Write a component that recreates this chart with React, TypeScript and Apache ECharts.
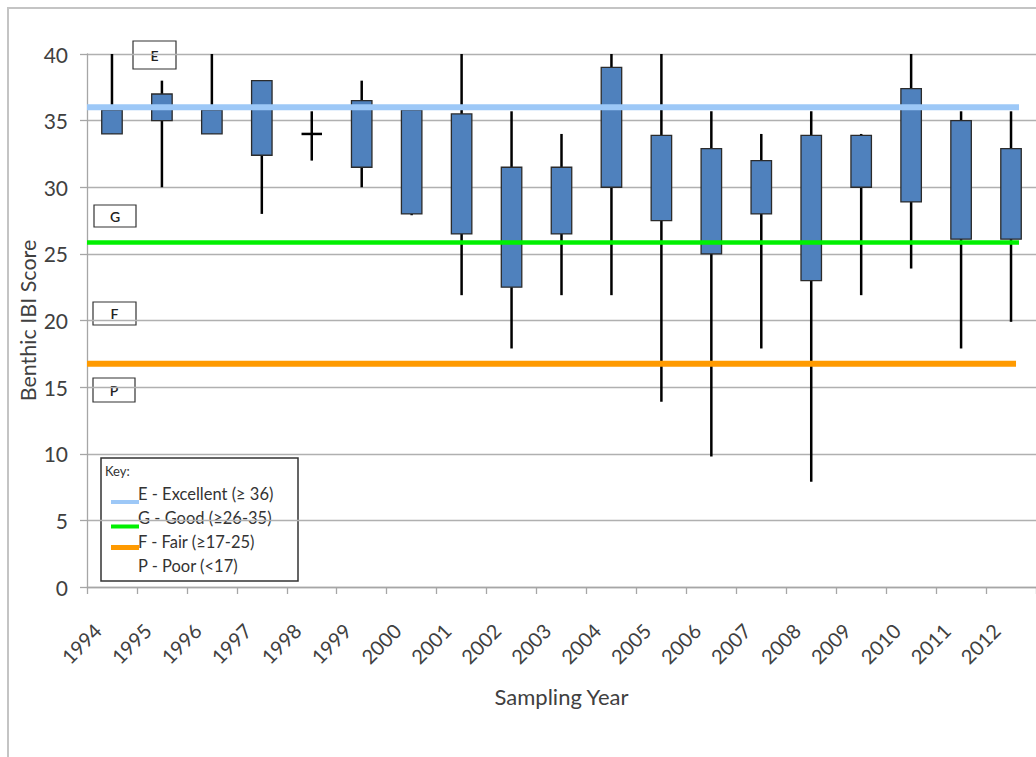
import React, { useEffect, useRef } from "react";
import * as echarts from "echarts";

const years = ["1994","1995","1996","1997","1998","1999","2000","2001","2002","2003","2004","2005","2006","2007","2008","2009","2010","2011","2012"];
const boxLow  = [34, 35, 34, 32.4, 34, 31.5, 28, 26.5, 22.5, 26.5, 30, 27.5, 25, 28, 23, 30, 28.9, 26.1, 26.1];
const boxHigh = [35.8, 37, 35.8, 38, 34, 36.5, 35.8, 35.5, 31.5, 31.5, 39, 33.9, 32.9, 32, 33.9, 33.9, 37.4, 35, 32.9];
const whiskerLow  = [34, 30, 34, 28, 32, 30, 27.9, 21.9, 17.9, 21.9, 21.9, 13.9, 9.8, 17.9, 7.9, 21.9, 23.9, 17.9, 19.9];
const whiskerHigh = [40, 38, 40, 38, 35.7, 38, 35.8, 40, 35.7, 34, 40, 40, 35.7, 34, 35.7, 34, 40, 35.7, 35.7];

const levelNames = ["Excellent", "Good", "Fair"];
const levelValues = [36, 25.85, 16.75];
const levelEnds = [18.66, 18.66, 18.6];
const levelColors = ["#9DC8F7", "#00F000", "#FF9A00"];
const levelWidths = [6, 4.5, 6];

const yTicks = { min: 0, max: 40, interval: 5 };
const labelShift = 0.212;

const FONT = "Lato, 'Open Sans', sans-serif";

export default function App() {
  const ref = useRef<HTMLDivElement>(null);
  useEffect(() => {
    if (!ref.current) return;
    const chart = echarts.init(ref.current, null, { renderer: "svg" });
    const boxData = years.map((_, i) => [i + 0.5, boxLow[i], boxHigh[i], whiskerLow[i], whiskerHigh[i]]);
    const series: any[] = [
      {
        type: "custom",
        name: "IBI",
        data: boxData,
        encode: { x: 0, y: [1, 2, 3, 4] },
        z: 2,
        renderItem: (params: any, api: any) => {
          const x = api.value(0);
          const pLo = api.coord([x, api.value(3)]);
          const pHi = api.coord([x, api.value(4)]);
          const b1 = api.coord([x, api.value(1)]);
          const b2 = api.coord([x, api.value(2)]);
          const w = api.size([0.41, 0])[0];
          const children: any[] = [
            {
              type: "line",
              shape: { x1: pLo[0], y1: pLo[1], x2: pHi[0], y2: pHi[1] },
              style: { stroke: "#000", lineWidth: 2.5 },
            },
          ];
          const h = Math.abs(b1[1] - b2[1]);
          if (h < 1) {
            children.push({
              type: "line",
              shape: { x1: b1[0] - w / 2, y1: b1[1], x2: b1[0] + w / 2, y2: b1[1] },
              style: { stroke: "#000", lineWidth: 2.5 },
            });
          } else {
            children.push({
              type: "rect",
              shape: { x: b1[0] - w / 2, y: Math.min(b1[1], b2[1]), width: w, height: h },
              style: { fill: "#4F81BD", stroke: "#2B2B2B", lineWidth: 1.3 },
            });
          }
          return { type: "group", children };
        },
      },
    ];
    levelValues.forEach((v, k) => {
      series.push({
        type: "line",
        name: levelNames[k],
        data: [[0, v], [levelEnds[k], v]],
        symbol: "none",
        z: 5,
        lineStyle: { color: levelColors[k], width: levelWidths[k] },
        silent: true,
      });
    });

    const boxText = (x: number, y: number, w: number, h: number, t: string) => ({
      type: "group",
      children: [
        { type: "rect", shape: { x, y, width: w, height: h }, style: { fill: "#fff", stroke: "#333", lineWidth: 1.2 } },
        { type: "text", x: x + w / 2, y: y + h / 2, style: { text: t, fill: "#222", font: `600 14px ${FONT}`, align: "center", verticalAlign: "middle" } },
      ],
    });

    const keyItems = ["E - Excellent (≥ 36)", "G - Good (≥26-35)", "F - Fair (≥17-25)", "P - Poor (<17)"];
    const keyY = [494, 518, 542, 566];
    const keyLineY = [502, 526.5, 547.5];

    chart.setOption({
      animation: false,
      backgroundColor: "#fff",
      textStyle: { fontFamily: FONT },
      grid: { left: 87, right: -1, top: 54, bottom: 170, containLabel: false },
      xAxis: [
        {
          type: "value",
          min: 0,
          max: years.length,
          interval: 1,
          position: "bottom",
          name: "Sampling Year",
          nameLocation: "middle",
          nameGap: 98,
          nameMoveOverlap: false,
          nameTextStyle: { fontSize: 22, color: "#404040", fontFamily: FONT },
          axisLine: { show: true, lineStyle: { color: "#A6A6A6", width: 1.3 } },
          axisTick: { show: true, length: 7, lineStyle: { color: "#A6A6A6", width: 1.3 } },
          splitLine: { show: false },
          axisLabel: { show: false },
        },
        {
          type: "value",
          min: -labelShift,
          max: years.length - labelShift,
          position: "bottom",
          offset: 0,
          axisLine: { show: false },
          axisTick: { show: false },
          splitLine: { show: false },
          axisLabel: {
            customValues: years.map((_, i) => i),
            rotate: 45,
            margin: 40,
            align: "right",
            verticalAlign: "middle",
            fontSize: 20,
            color: "#404040",
            fontFamily: FONT,
            formatter: (v: number) => years[Math.round(v)] ?? "",
          },
        },
      ],
      yAxis: {
        type: "value",
        min: yTicks.min,
        max: yTicks.max,
        interval: yTicks.interval,
        name: "Benthic IBI Score",
        nameLocation: "middle",
        nameRotate: 90,
        nameGap: 48,
        nameMoveOverlap: false,
        nameTextStyle: { fontSize: 21.5, color: "#404040", fontFamily: FONT },
        axisLine: { show: true, lineStyle: { color: "#A6A6A6", width: 1.3 } },
        axisTick: { show: true, length: 7, lineStyle: { color: "#A6A6A6", width: 1.3 } },
        splitLine: { show: true, lineStyle: { color: "#B0B0B0", width: 1.3 } },
        axisLabel: { margin: 19, fontSize: 21, color: "#404040", fontFamily: FONT },
      },
      series,
      graphic: [
        { type: "rect", z: 0, shape: { x: 8, y: 8, width: 1100, height: 800 }, style: { fill: "none", stroke: "#C4C4C4", lineWidth: 2 } },
        boxText(133, 41, 43, 28, "E"),
        boxText(94, 205, 42, 22, "G"),
        boxText(93, 302, 43, 23, "F"),
        boxText(93, 378, 42, 24, "P"),
        {
          type: "group",
          children: [
            { type: "rect", shape: { x: 101, y: 458, width: 197, height: 123 }, style: { fill: "#fff", stroke: "#333", lineWidth: 1.5 } },
            { type: "text", x: 105, y: 471, style: { text: "Key:", fill: "#333", font: `13px ${FONT}`, verticalAlign: "middle" } },
            ...keyLineY.map((y, k) => ({
              type: "line",
              shape: { x1: 111, y1: y, x2: 139, y2: y },
              style: { stroke: levelColors[k], lineWidth: k === 2 ? 5 : 4 },
            })),
            ...keyItems.map((t, k) => ({
              type: "text",
              x: 138,
              y: keyY[k],
              style: { text: t, fill: "#333", font: `16.5px ${FONT}`, verticalAlign: "middle" },
            })),
          ],
        },
      ],
    });
    return () => chart.dispose();
  }, []);
  return <div ref={ref} style={{ position: "fixed", left: 0, top: 0, width: 1036, height: 757 }} />;
}
